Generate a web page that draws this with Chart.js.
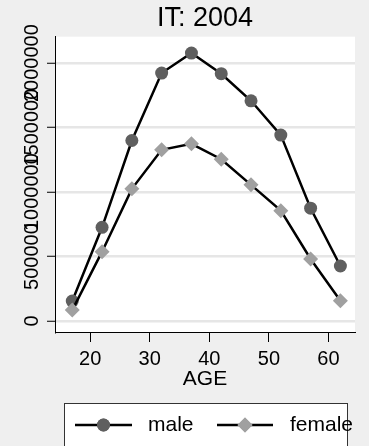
<!DOCTYPE html>
<html>
<head>
<meta charset="utf-8">
<title>IT: 2004</title>
<script src="https://cdn.jsdelivr.net/npm/chart.js@4.4.1/dist/chart.umd.min.js"></script>
<style>
  html, body { margin: 0; padding: 0; background: #efefef; }
  #wrap { width: 369px; height: 446px; }
</style>
</head>
<body>
<div id="wrap"><canvas id="c-age-profile" width="369" height="446"></canvas></div>
<script>
// values
const ages = [17, 22, 27, 32, 37, 42, 47, 52, 57, 62];
const maleCounts = [155000, 727000, 1400000, 1923000, 2078000, 1918000, 1708000, 1442000, 875000, 427000];
const femaleCounts = [85000, 538000, 1025000, 1328000, 1374000, 1255000, 1056000, 856000, 481000, 158000];
const ageTicks = [20, 30, 40, 50, 60];
const countTicks = [0, 500000, 1000000, 1500000, 2000000];
const seriesLabels = ['male', 'female'];

const FONT = "'Liberation Sans', Arial, sans-serif";

document.addEventListener('DOMContentLoaded', () => {
    renderAgeChart();
});

// white plot region on the grey page
const plotBackground = {
    id: 'plotBackground',
    beforeDraw(chart) {
        const { ctx, chartArea: a } = chart;
        ctx.save();
        ctx.fillStyle = '#ffffff';
        ctx.fillRect(a.left, a.top, a.right - a.left, a.bottom - a.top);
        ctx.restore();
    }
};

// stata style vertical y tick labels
const verticalYLabels = {
    id: 'verticalYLabels',
    afterDraw(chart) {
        const { ctx } = chart;
        const y = chart.scales.y;
        ctx.save();
        ctx.fillStyle = '#000';
        ctx.font = `20px ${FONT}`;
        ctx.textAlign = 'center';
        ctx.textBaseline = 'alphabetic';
        countTicks.forEach(v => {
            ctx.save();
            ctx.translate(38, y.getPixelForValue(v));
            ctx.rotate(-Math.PI / 2);
            ctx.fillText(String(v), 0, 0);
            ctx.restore();
        });
        ctx.restore();
    }
};

// boxed legend: line + marker + label
const boxLegend = {
    id: 'boxLegend',
    afterDraw(chart) {
        const { ctx } = chart;
        const top = 403, midY = 425;
        ctx.save();
        ctx.fillStyle = '#ffffff';
        ctx.fillRect(64, top, 284, 60);
        ctx.strokeStyle = '#333';
        ctx.lineWidth = 1;
        ctx.strokeRect(64.5, top + 0.5, 283, 60);

        const entries = [
            { x0: 75, x1: 132, tx: 148 },
            { x0: 217, x1: 273, tx: 290 }
        ];
        chart.data.datasets.forEach((ds, i) => {
            const e = entries[i];
            ctx.strokeStyle = ds.borderColor;
            ctx.lineWidth = ds.borderWidth;
            ctx.beginPath();
            ctx.moveTo(e.x0, midY);
            ctx.lineTo(e.x1, midY);
            ctx.stroke();
            ctx.fillStyle = ds.pointBackgroundColor;
            Chart.helpers.drawPoint(ctx, { pointStyle: ds.pointStyle, radius: ds.pointRadius, borderWidth: 0 }, (e.x0 + e.x1) / 2, midY);
            ctx.fill();
            ctx.fillStyle = '#000';
            ctx.font = `21px ${FONT}`;
            ctx.textAlign = 'left';
            ctx.textBaseline = 'middle';
            ctx.fillText(ds.label, e.tx, midY);
        });
        ctx.restore();
    }
};

function renderAgeChart() {
    const toPoints = vals => ages.map((a, i) => ({ x: a, y: vals[i] }));

    new Chart(document.getElementById('c-age-profile'), {
        type: 'line',
        data: {
            datasets: [
                { label: seriesLabels[0], data: toPoints(maleCounts), borderColor: '#000', borderWidth: 2.5,
                  pointStyle: 'circle', pointRadius: 6.5, pointBackgroundColor: '#5f5f5f', pointBorderWidth: 0, order: 1 },
                { label: seriesLabels[1], data: toPoints(femaleCounts), borderColor: '#000', borderWidth: 2.5,
                  pointStyle: 'rectRot', pointRadius: 7.5, pointBackgroundColor: '#a0a0a0', pointBorderWidth: 0, order: 0 }
            ]
        },
        options: {
            responsive: false,
            animation: false,
            layout: { padding: { left: 0, right: 14, top: 0, bottom: 54 } },
            elements: { line: { tension: 0 } },
            plugins: {
                legend: { display: false },
                tooltip: { enabled: false },
                title: { display: true, fullSize: false, text: 'IT: 2004', color: '#000',
                         font: { size: 27, weight: 'normal', family: FONT, lineHeight: 1.1 }, padding: { top: 4, bottom: 3 } }
            },
            scales: {
                x: {
                    type: 'linear', min: 14.1, max: 64.45,
                    afterBuildTicks: s => { s.ticks = ageTicks.map(v => ({ value: v })); },
                    afterFit: s => { s.height = 60; },
                    grid: { drawOnChartArea: false, drawTicks: true, tickLength: 10, tickColor: '#000', tickWidth: 1 },
                    border: { color: '#000', width: 1 },
                    ticks: { color: '#000', font: { size: 20, family: FONT }, padding: 5, maxRotation: 0, autoSkip: false },
                    title: { display: true, text: 'AGE', color: '#000', font: { size: 21, family: FONT }, padding: { top: 0, bottom: 0 } }
                },
                y: {
                    type: 'linear', min: -85000, max: 2205000,
                    afterBuildTicks: s => { s.ticks = countTicks.map(v => ({ value: v })); },
                    afterFit: s => { s.width = 55; },
                    grid: { color: '#e6e6e6', lineWidth: 2.5, drawTicks: true, tickLength: 8, tickColor: '#000', tickWidth: 1 },
                    border: { color: '#000', width: 1 },
                    ticks: { display: false }
                }
            }
        },
        plugins: [plotBackground, verticalYLabels, boxLegend]
    });
}
</script>
</body>
</html>
